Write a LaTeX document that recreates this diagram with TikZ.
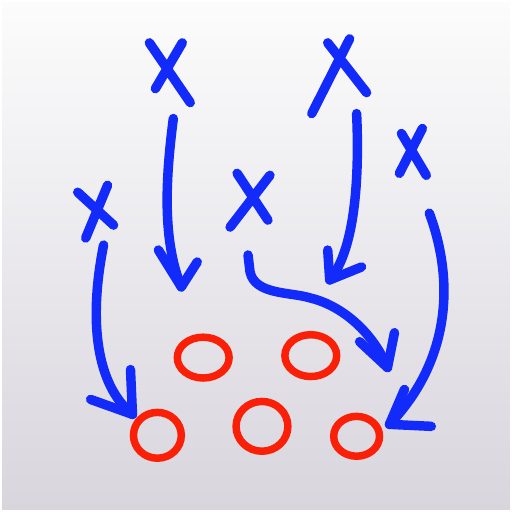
\documentclass[tikz,border=0pt]{standalone}
\definecolor{penblue}{RGB}{18,42,250}
\definecolor{penred}{RGB}{250,32,8}
\definecolor{boardtop}{RGB}{252,252,252}
\definecolor{boardmid}{RGB}{238,237,241}
\definecolor{boardbot}{RGB}{216,213,221}
\tikzset{
  bluepen/.style={penblue, line width=9.5pt, line cap=round, line join=round},
  redpen/.style={penred, line width=7.5pt},
}
\begin{document}
\begin{tikzpicture}[x=1pt,y=-1pt]
    % Board
    \shade[top color=boardtop, middle color=boardmid, bottom color=boardbot] (0,0) rectangle (512,512);
    \draw[white, line width=2pt] (0,0) rectangle (512,512);
    \useasboundingbox (0,0) rectangle (512,512);

    % Offense
    \draw[bluepen] (149,42) -- (190,102) (182,42) -- (155,88);
    \draw[bluepen] (328,42) -- (367,92) (350,38) -- (312,113);
    \draw[bluepen] (423,128) -- (400,173) (402,133) -- (427,175);
    \draw[bluepen] (237,173) -- (268,220) (270,175) -- (230,227);
    \draw[bluepen] (77,192) -- (113,225) (107,185) -- (85,238);

    % Arrow tips
    \coordinate (tipA) at (181,287);
    \coordinate (tipB) at (330,280);
    \coordinate (tipC) at (388,368);
    \coordinate (tipD) at (132,415);
    \coordinate (tipE) at (390,425);

    % Routes
    \draw[bluepen] (173,118) .. controls (165,180) and (162,240) .. (tipA);
    \draw[bluepen] (158,250) -- (tipA) -- (197,262);
    \draw[bluepen] (357,113) .. controls (360,180) and (355,250) .. (tipB);
    \draw[bluepen] (328,250) -- (tipB) -- (362,267);
    \draw[bluepen] (248,255) -- (250,272) .. controls (255,295) and (290,292) .. (310,298)
        .. controls (340,305) and (372,330) .. (tipC);
    \draw[bluepen] (360,342) -- (tipC) -- (395,333);
    \draw[bluepen] (103,245) .. controls (88,320) and (95,385) .. (tipD);
    \draw[bluepen] (90,400) -- (tipD) -- (130,370);
    \draw[bluepen] (430,213) .. controls (455,280) and (452,360) .. (tipE);
    \draw[bluepen] (405,390) -- (tipE) -- (432,427);

    % Defense
    \coordinate (o1) at (203,358);
    \coordinate (o2) at (311,356);
    \coordinate (o3) at (157,436);
    \coordinate (o4) at (262,427);
    \coordinate (o5) at (357,437);
    \draw[redpen] (o1) ellipse [x radius=26, y radius=20.5];
    \draw[redpen] (o2) ellipse [x radius=26, y radius=21];
    \draw[redpen] (o3) ellipse [x radius=24, y radius=23];
    \draw[redpen] (o4) ellipse [x radius=26, y radius=25];
    \draw[redpen] (o5) ellipse [x radius=23, y radius=20];
\end{tikzpicture}
\end{document}
